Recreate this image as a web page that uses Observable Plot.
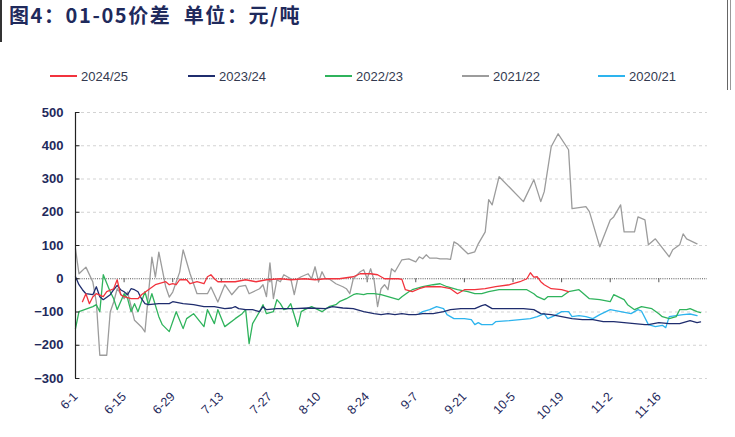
<!DOCTYPE html>
<html><head><meta charset="utf-8">
<script src="https://cdn.jsdelivr.net/npm/d3@7"></script>
<script src="https://cdn.jsdelivr.net/npm/@observablehq/plot@0.6"></script>
<style>
body{margin:0;background:#fff;}
#wrap{position:relative;width:735px;height:437px;overflow:hidden;font-family:"Liberation Sans",Arial,sans-serif;background:#fff;}
#title{position:absolute;left:0;top:0;height:42px;border-left:2px solid #333;padding-left:7px;font-family:"Noto Sans CJK SC";font-weight:bold;font-size:20px;letter-spacing:1.6px;color:#1f2a5c;line-height:30px;white-space:nowrap;}
#rborder{position:absolute;left:727px;top:0;width:2px;height:437px;border-left:1px solid #666;border-right:1px solid #999;}
#legend{position:absolute;top:67px;left:0;width:735px;height:20px;}
.item{position:absolute;top:0;display:flex;align-items:center;font-size:13px;color:#333a4f;height:18px;}
.sw{width:27px;height:2px;margin-right:4px;}
#chart{position:absolute;left:0;top:90px;}
</style></head>
<body><div id="wrap">
<div id="title">图4：01-05价差&nbsp;&nbsp;单位：元/吨</div>
<div id="rborder"></div>
<div id="legend"></div>
<div id="chart"></div>
</div>
<script>
// Series labels and colours
const seriesNames = ["2024/25", "2023/24", "2022/23", "2021/22", "2020/21"];
const seriesColors = ["#f2333d", "#1f2d6e", "#2fb35c", "#9c9c9c", "#2db4ee"];
// x positions = days since 6-1 ; y = spread (元/吨)
const days2425 = [2,3,4,5,6,8,9,11,12,13,14,16,18,19,21,23,24,26,27,28,29,30,32,33,35,37,38,39,40,41,44,46,49,52,55,59,62,66,69,72,76,80,82,85,87,89,93,94,95,97,99,101,105,108,110,112,115,118,121,125,128,130,131,132,133,134,135,137,140,142];
const vals2425 = [-69,-45,-75,-54,-45,-54,-39,-30,-3,-48,-54,-60,-60,-48,-33,-18,-15,-9,-18,-15,-18,-3,-3,-15,-9,-15,6,12,0,-9,-9,-9,-3,-9,-3,0,-3,0,-3,0,0,6,15,15,12,0,0,-2,-33,-39,-30,-24,-24,-30,-45,-33,-33,-30,-24,-18,-9,0,18,5,6,-9,-18,-30,-33,-39];
const days2324 = [0,1,2,3,5,6,7,8,10,11,12,13,14,15,16,17,18,19,20,21,24,27,28,31,34,37,40,43,45,46,47,49,51,53,54,55,58,63,67,72,74,77,80,83,86,88,90,92,94,96,98,100,103,106,108,111,115,117,118,120,125,129,132,133,134,137,140,143,146,149,152,155,158,161,164,165,168,171,174,177,179,180];
const vals2324 = [6,-18,-33,-45,-48,-24,-54,-63,-48,-33,-20,-33,-39,-48,-30,-33,-39,-60,-75,-78,-75,-75,-69,-75,-78,-84,-84,-90,-88,-84,-90,-93,-93,-99,-84,-93,-90,-90,-88,-90,-84,-88,-90,-99,-105,-108,-105,-108,-105,-108,-108,-105,-105,-99,-93,-90,-90,-81,-78,-90,-90,-90,-93,-99,-105,-108,-114,-120,-123,-123,-129,-129,-132,-135,-138,-138,-132,-135,-135,-126,-132,-130];
const days2223 = [0,1,5,6,7,8,10,11,12,14,15,16,17,18,20,21,22,24,25,27,29,31,32,34,37,38,40,41,43,46,48,49,50,51,53,54,55,57,58,59,60,61,62,64,65,66,68,71,73,75,76,78,80,81,83,84,86,88,90,92,93,94,96,97,100,103,105,107,110,113,115,117,119,122,126,130,132,133,135,136,140,142,145,148,151,154,155,158,159,161,163,166,168,169,171,173,174,176,177,179,180];
const vals2223 = [-150,-99,-84,-78,-99,12,-39,-60,-93,-45,-60,-99,-75,-99,-39,-78,-45,-114,-138,-159,-99,-150,-120,-105,-144,-93,-135,-93,-144,-120,-105,-93,-195,-135,-99,-78,-105,-99,-63,-75,-93,-90,-75,-144,-99,-93,-84,-99,-84,-78,-69,-60,-48,-45,-48,-45,-45,-48,-54,-60,-63,-54,-39,-33,-24,-18,-15,-24,-33,-39,-45,-45,-39,-33,-33,-33,-45,-54,-63,-54,-54,-39,-33,-60,-63,-69,-48,-63,-78,-93,-84,-90,-105,-114,-120,-114,-93,-93,-90,-99,-102];
const days2122 = [0,1,3,5,6,7,9,10,11,12,14,15,17,19,20,22,23,24,26,27,28,30,31,33,35,38,39,41,43,45,47,49,50,53,54,55,56,57,58,59,60,62,63,64,65,67,68,69,70,71,72,73,75,77,78,79,80,82,83,84,85,86,87,88,89,90,91,92,94,96,98,99,100,101,102,104,105,107,108,109,110,113,115,116,118,119,120,122,129,132,134,135,137,139,142,143,147,148,151,154,155,157,158,161,162,164,165,167,171,172,174,175,176,179];
const vals2122 = [90,15,35,-10,-70,-230,-230,-100,-70,-30,-60,-40,-125,-145,-160,65,5,80,-25,-55,-40,20,87,15,-45,-45,-25,-70,-18,-48,-24,-20,-45,-30,-18,-54,48,-60,-3,-9,12,0,-48,0,6,15,0,36,-9,21,0,0,-15,-24,-30,-45,0,21,27,0,30,-5,-84,-30,-18,-33,30,21,57,60,51,66,60,72,62,62,60,60,58,111,105,75,81,105,141,238,222,307,232,298,232,262,397,436,388,211,217,202,96,177,186,222,141,141,186,177,102,120,66,87,102,135,120,105];
const days2021 = [99,100,102,104,106,107,109,112,114,115,116,117,120,121,125,128,131,133,135,136,138,140,142,143,145,147,149,151,154,157,160,162,163,165,167,169,170,171,173,175,177,179];
const vals2021 = [-105,-99,-93,-84,-90,-108,-120,-120,-123,-138,-132,-138,-138,-129,-126,-123,-120,-114,-105,-120,-111,-99,-99,-114,-111,-114,-120,-108,-93,-99,-105,-93,-97,-138,-144,-140,-147,-114,-111,-108,-106,-111];
const yTicks = [-300,-200,-100,0,100,200,300,400,500];
const xTickDays = [0,14,28,42,56,70,84,98,112,126,140,154,168];

const start = new Date(2021, 5, 1);
const fmt = d => { const t = d3.timeDay.offset(start, d); return `${t.getMonth()+1}-${t.getDate()}`; };
const mk = (days, vals) => days.map((d, i) => ({d, v: vals[i]}));
const series = [mk(days2425, vals2425), mk(days2324, vals2324), mk(days2223, vals2223), mk(days2122, vals2122), mk(days2021, vals2021)];
const drawOrder = [3, 4, 2, 1, 0];

const chart = Plot.plot({
  width: 735, height: 347,
  marginTop: 22, marginBottom: 59, marginLeft: 75, marginRight: 35,
  style: {fontFamily: "Liberation Sans, Arial, sans-serif", color: "#1f2a5c", background: "#fff"},
  x: {domain: [0, 180], axis: null},
  y: {domain: [-300, 500], axis: null},
  marks: [
    Plot.ruleY(yTicks.filter(t => t !== 0), {x1: 0, x2: 182, stroke: "#c8c8c8", strokeDasharray: "3,3", strokeWidth: 0.8}),
    Plot.ruleY([0], {x1: 0, x2: 182, stroke: "#555", strokeDasharray: "1,1.2", strokeWidth: 1}),
    Plot.ruleX(xTickDays, {y1: 0, y2: -12, stroke: "#555", strokeWidth: 1}),
    ...drawOrder.map(i => Plot.line(series[i], {x: "d", y: "v", stroke: seriesColors[i], strokeWidth: 1.3})),
    Plot.ruleX([0], {y1: -300, y2: 500, stroke: "#222", strokeWidth: 1.2}),
    Plot.ruleY(yTicks, {x1: 0, x2: 1.3, stroke: "#222", strokeWidth: 1}),
    Plot.axisY({ticks: yTicks, tickSize: 0, tickPadding: 12, fontWeight: "bold", fontSize: 13, label: null}),
    Plot.axisX({ticks: xTickDays, tickFormat: fmt, tickRotate: -45, tickSize: 0, tickPadding: 16, fontSize: 12.5, label: null})
  ]
});
document.getElementById("chart").appendChild(chart);

const legendX = [50, 188, 325, 462, 598];
const legend = document.getElementById("legend");
seriesNames.forEach((n, i) => {
  const it = document.createElement("div");
  it.className = "item";
  it.style.left = legendX[i] + "px";
  it.innerHTML = `<span class="sw" style="background:${seriesColors[i]}"></span><span>${n}</span>`;
  legend.appendChild(it);
});
</script>
</body></html>
